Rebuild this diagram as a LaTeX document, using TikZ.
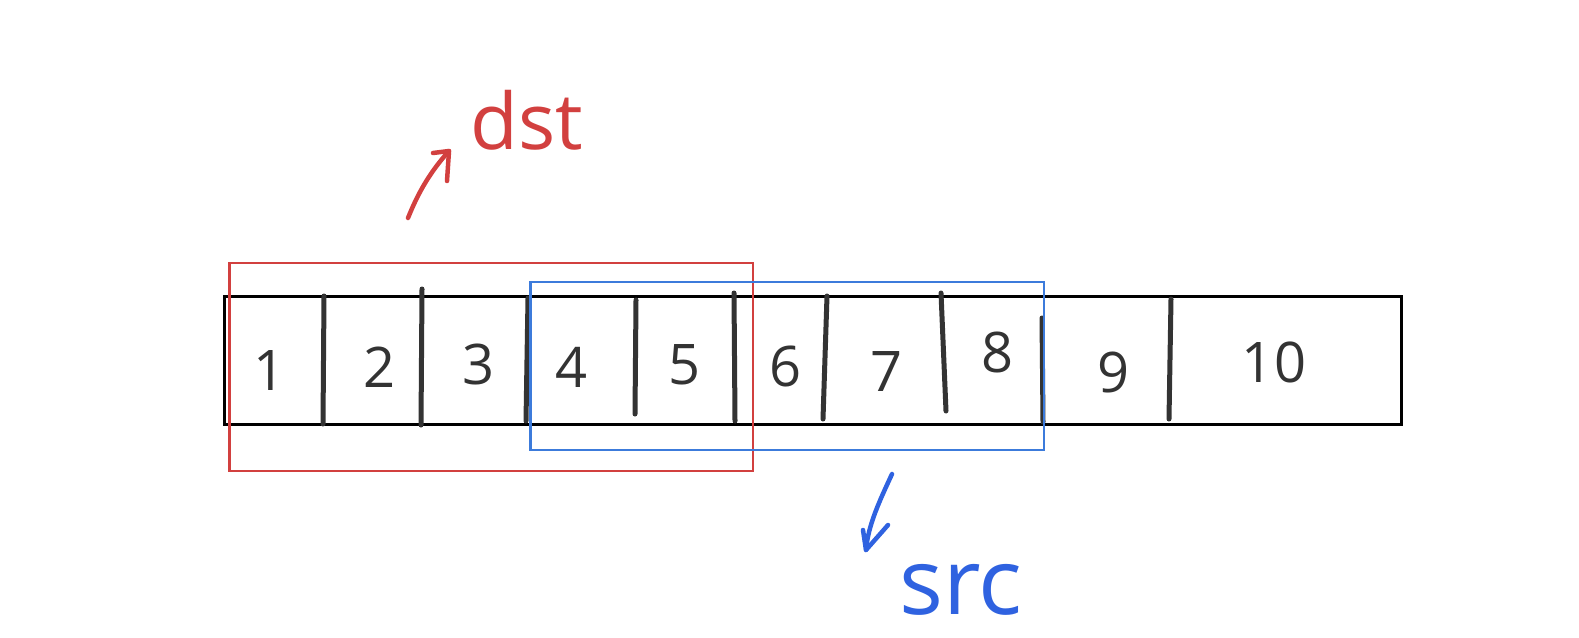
\documentclass[tikz,border=0pt]{standalone}
\usepackage{fontspec}
\setmainfont{Open Sans}
\definecolor{ink}{HTML}{333333}
\definecolor{redink}{HTML}{D2403F}
\definecolor{blueink}{HTML}{2F62E0}
\definecolor{bluebox}{HTML}{3C7BDB}
\begin{document}
\begin{tikzpicture}[x=1pt,y=-1pt,
  num/.style={text=ink,font=\fontsize{56}{60}\selectfont,inner sep=0pt},
  divider/.style={draw=ink,line width=5pt,line cap=round},
  arrbox/.style={draw=black,line width=3pt},
  dstbox/.style={draw=redink,line width=2.5pt},
  srcbox/.style={draw=bluebox,line width=2.5pt},
  dstlab/.style={text=redink,font=\fontsize{78}{80}\selectfont,inner sep=0pt},
  srclab/.style={text=blueink,font=\fontsize{92}{96}\selectfont,inner sep=0pt},
  redpen/.style={draw=redink,line width=4.5pt,line cap=round,line join=round},
  bluepen/.style={draw=blueink,line width=4.5pt,line cap=round,line join=round}]
\useasboundingbox (0,0) rectangle (1579,637);
% array
\draw[arrbox] (224.6,296) rectangle (1401.8,424);
% dividers
\draw[divider] (324,296) -- (323,424);
\draw[divider] (422,289) -- (421,425);
\draw[divider] (528,298) -- (526,421);
\draw[divider] (636,300) -- (635,414);
\draw[divider] (734,293) -- (735,421);
\draw[divider] (827,296) -- (823,419);
\draw[divider] (941,293) -- (946,411);
\draw[divider] (1042,318) -- (1043,422);
\draw[divider] (1171,299) -- (1169,419);
% numbers
\node[num] (n1) at (270,371) {1};
\node[num] (n2) at (380,367) {2};
\node[num] (n3) at (479,364) {3};
\node[num] (n4) at (572,367) {4};
\node[num] (n5) at (685,365) {5};
\node[num] (n6) at (785,366) {6};
\node[num] (n7) at (886,372) {7};
\node[num] (n8) at (997,352) {8};
\node[num] (n9) at (1113,372) {9};
\node[num] (n10) at (1274,362) {10};
% windows
\draw[dstbox] (229.6,263) rectangle (753,471);
\draw[srcbox] (530.7,282) rectangle (1044,450);
% labels
\node[dstlab] (dst) at (527,120) {dst};
\node[srclab] (src) at (961,590) {src};
% dst arrow
\coordinate (dtail) at (408,218);
\coordinate (dtip) at (449,151);
\draw[redpen] (dtail) .. controls (418,193) and (430,172) .. (dtip);
\draw[redpen] ([xshift=-16pt,yshift=-2pt]dtip) -- (dtip) -- ([xshift=-2pt,yshift=-30pt]dtip);
% src arrow
\coordinate (stail) at (892,474);
\coordinate (stip) at (866,550);
\draw[bluepen] (stail) .. controls (880,500) and (868,525) .. (stip);
\draw[bluepen] ([xshift=-3pt,yshift=20pt]stip) -- (stip) -- ([xshift=22pt,yshift=25pt]stip);
\end{tikzpicture}
\end{document}
